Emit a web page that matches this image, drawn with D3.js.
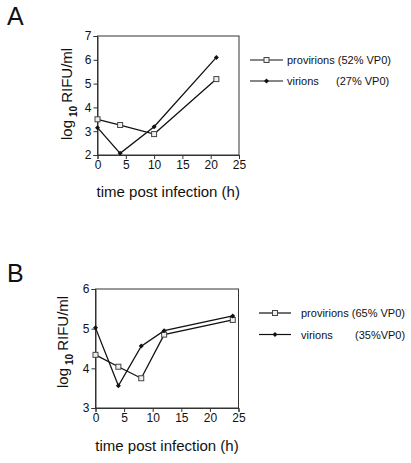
<!DOCTYPE html>
<html><head><meta charset="utf-8">
<script src="https://cdn.jsdelivr.net/npm/d3@7"></script>
<style>
body{margin:0;background:#fff;}
text{font-family:"Liberation Sans",Arial,sans-serif;fill:#111;}
</style></head>
<body><svg id="c" width="411" height="463"></svg>
<script>
// Panel A data
const timesA = [0, 4, 10, 21];
const provirionsA = [3.5, 3.26, 2.88, 5.19];
const virionsA = [3.15, 2.07, 3.19, 6.1];
const xTicksA = [0, 5, 10, 15, 20, 25];
const yTicksA = [2, 3, 4, 5, 6, 7];
const legendA = [["provirions (52% VP0)", ""], ["virions", "(27% VP0)"]];
// Panel B data
const timesB = [0, 4, 8, 12, 24];
const provirionsB = [4.34, 4.04, 3.75, 4.85, 5.22];
const virionsB = [5.02, 3.56, 4.56, 4.95, 5.32];
const xTicksB = [0, 5, 10, 15, 20, 25];
const yTicksB = [3, 4, 5, 6];
const legendB = [["provirions (65% VP0)", ""], ["virions", "(35%VP0)"]];

const svg = d3.select("#c");

function panel(o){
  const g = svg.append("g");
  const x = d3.scaleLinear().domain([0,25]).range([o.left,o.right]);
  const y = d3.scaleLinear().domain(o.ydom).range([o.bottom,o.top]);
  g.append("rect").attr("x",o.left).attr("y",o.top)
    .attr("width",o.right-o.left).attr("height",o.bottom-o.top)
    .attr("fill","none").attr("stroke","#333").attr("stroke-width",1);
  const xa = g.append("g").attr("transform",`translate(0,${o.bottom})`)
    .call(d3.axisBottom(x).tickValues(o.xticks).tickFormat(d3.format("d")).tickSize(4).tickPadding(1));
  const ya = g.append("g").attr("transform",`translate(${o.left},0)`)
    .call(d3.axisLeft(y).tickValues(o.yticks).tickFormat(d3.format("d")).tickSize(4).tickPadding(2));
  [xa,ya].forEach(a=>{
    a.select(".domain").attr("stroke","#333");
    a.selectAll("line").attr("stroke","#333");
    a.selectAll("text").attr("font-size",12).attr("font-family","Liberation Sans, Arial, sans-serif").attr("fill","#111");
  });
  const line = d3.line().x(d=>x(d[0])).y(d=>y(d[1]));
  const ser = [
    {vals:o.prov, type:"sq"},
    {vals:o.vir, type:"dot"}
  ];
  ser.forEach(s=>{
    const pts = o.times.map((t,i)=>[t,s.vals[i]]);
    g.append("path").attr("d",line(pts)).attr("fill","none").attr("stroke","#111").attr("stroke-width",1.3);
    pts.forEach(p=>marker(g,x(p[0]),y(p[1]),s.type));
  });
  o.legend.forEach((l,i)=>{
    const ly = o.legY[i];
    g.append("line").attr("x1",o.legX0).attr("x2",o.legX1).attr("y1",ly).attr("y2",ly)
      .attr("stroke","#111").attr("stroke-width",1.2);
    marker(g,(o.legX0+o.legX1)/2,ly,ser[i].type);
    g.append("text").attr("x",o.legTx).attr("y",ly+4).attr("font-size",11).text(l[0]);
    if(l[1]) g.append("text").attr("x",o.legTx2).attr("y",ly+4).attr("font-size",11).text(l[1]);
  });
  g.append("text").attr("x",(o.left+o.right)/2).attr("y",o.xlabY).attr("text-anchor","middle")
    .attr("font-size",15).text("time post infection (h)");
  const yl = g.append("text").attr("transform",`translate(${o.ylabX},${o.ylabY}) rotate(-90)`)
    .attr("font-size",15);
  yl.append("tspan").text("log");
  yl.append("tspan").attr("font-size",10).attr("font-weight","bold").attr("dy",5).attr("dx",3).text("10");
  yl.append("tspan").attr("dy",-5).attr("dx",3).text("RIFU/ml");
  g.append("text").attr("x",o.letX).attr("y",o.letY).attr("font-size",25).text(o.letter);
}
function marker(g,cx,cy,type){
  if(type==="sq"){
    g.append("rect").attr("x",cx-2.5).attr("y",cy-2.5).attr("width",5).attr("height",5)
      .attr("fill","#eee").attr("stroke","#444").attr("stroke-width",1);
  } else {
    g.append("path").attr("d",`M${cx},${cy-2.5}L${cx+2.5},${cy}L${cx},${cy+2.5}L${cx-2.5},${cy}Z`)
      .attr("fill","#111");
  }
}
panel({left:97.5,right:239,top:36,bottom:155,ydom:[2,7],xticks:xTicksA,yticks:yTicksA,
  times:timesA,prov:provirionsA,vir:virionsA,legend:legendA,
  legX0:250,legX1:283,legY:[60,81],legTx:287,legTx2:336,
  xlabY:197,ylabX:72,ylabY:140,letter:"A",letX:7,letY:25});
panel({left:95.5,right:238.5,top:289,bottom:408,ydom:[3,6],xticks:xTicksB,yticks:yTicksB,
  times:timesB,prov:provirionsB,vir:virionsB,legend:legendB,
  legX0:259,legX1:291,legY:[313,334.5],legTx:301,legTx2:355,
  xlabY:451,ylabX:68,ylabY:388,letter:"B",letX:7,letY:282});
</script></body></html>
